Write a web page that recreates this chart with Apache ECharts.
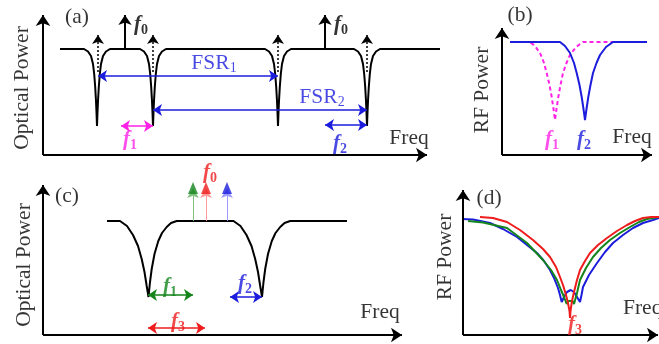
<!DOCTYPE html>
<html>
<head>
<meta charset="utf-8">
<script src="https://cdn.jsdelivr.net/npm/echarts@6/dist/echarts.min.js"></script>
<style>
html, body { margin: 0; padding: 0; background: #fff; }
#chart { width: 659px; height: 344px; }
</style>
</head>
<body>
<div id="chart"></div>
<script>
// units: freq / power offsets from each panel's origin

// (a) filter transmission, four notches
const curveA = [[17,106],
  [41,106],[45,103.5],[48,99],[50,91],[51.2,81],[52.2,68],[53,54],[53.6,40],[54,29],[54.4,40],[55,54],[55.8,68],[56.8,81],[58,91],[60,99],[63,103.5],[67,106],
  [97,106],[101,103.5],[104,99],[106,91],[107.2,81],[108.2,68],[109,54],[109.6,40],[110,29],[110.4,40],[111,54],[111.8,68],[112.8,81],[114,91],[116,99],[119,103.5],[123,106],
  [222,106],[226,103.5],[229,99],[231,91],[232.2,81],[233.2,68],[234,54],[234.6,40],[235,29],[235.4,40],[236,54],[236.8,68],[237.8,81],[239,91],[241,99],[244,103.5],[248,106],
  [311,106],[315,103.5],[318,99],[320,91],[321.2,81],[322.2,68],[323,54],[323.6,40],[324,29],[324.4,40],[325,54],[325.8,68],[326.8,81],[328,91],[330,99],[333,103.5],[337,106],
  [397,106]];
const sidebandsA = [55, 110, 235, 324];
const carriersA = [82, 282];

// (b) RF response
const rfBlue = [[8,113],[58,113],[63,109],[68,102],[72,92],[74.7,82],[77.5,70],[79.7,58],[81.5,46],[83,35],[84.5,46],[86.3,58],[88.5,70],[91,82],[94.5,92],[98,100],[104,108],[111,113],[145,113]];
const rfMagenta = [[8,113],[28,113],[33,109],[38,102],[42,92],[44.7,82],[47.5,70],[49.7,58],[51.5,46],[53,35],[54.5,46],[56.3,58],[58.5,70],[61,82],[64.5,92],[68,100],[74,108],[81,113],[145,113]];

// (c) filter transmission, two notches
const curveC = [[64,114],
  [77,114],[84,109],[90,100],[95,89],[98.7,76],[101.5,63],[103.7,49],[104.7,43],[105.5,38],[106,43],[107,53],[108.7,66],[111.5,81],[115.3,94],[119,102],[123.7,108],[128,112],[133.7,114],
  [190.5,114],[197.5,109],[203.5,100],[208.5,89],[212.2,76],[215,63],[217.2,49],[218.2,43],[219,38],[219.5,43],[220.5,53],[222.2,66],[225,81],[228.8,94],[232.5,102],[237.2,108],[241.5,112],[247.2,114],
  [304,114]];
const carriersC = [150, 163, 184];

// (d) RF response for three carriers
const rfRed = [[17,118],[30,117],[44,113],[57,105],[70,95],[80,86],[87,78],[93,68],[97,58],[100,50],[103,40],[105,32],[106.5,24],[107,17],[107.5,24],[109,34],[111,43],[114,55],[117,65],[122,74],[127,82],[135,90],[144,97],[154,104],[164,110],[172,114],[180,117],[188,118],[196,118]];
const rfGreen = [[5,114],[20,112.5],[44,107],[64,92],[80,75],[88,65],[94,55],[98,45],[101,38],[103.7,31],[105.5,34],[107.5,36],[109.5,34],[111,31],[114,42],[117,55],[123,67],[130,78],[138,87],[147,95],[157,102],[167,108],[176,113],[184,116],[196,118]];
const rfBlueD = [[-1,116],[10,115.5],[27,112],[40,106],[54,98],[64,90],[74,82],[81,74],[87,65],[91,57],[95,47],[97,40],[98.7,33],[101,38],[104,43],[107.7,45],[111,43],[114,38],[117,33],[118.5,40],[120,48],[126,60],[134,72],[142,83],[150,92],[160,100],[170,107],[180,112],[190,115],[196,117]];

// axis lengths (freq, power) per panel
const axisLen = [[384, 140], [150, 127], [359, 150], [195, 145]];

const SERIF = '"Liberation Serif", "DejaVu Serif", serif';
const BLUE = '#1c1cdc', MAG = '#ff22e6', RED = '#ee1c1c', GREEN = '#13851a';

const grids = [
  { left: 43, top: 15, width: 397, height: 140 },
  { left: 502, top: 28, width: 150, height: 127 },
  { left: 43, top: 185, width: 359, height: 150 },
  { left: 463, top: 190, width: 196, height: 145 }
];

function axis(i, max) {
  return {
    gridIndex: i, type: 'value', min: 0, max: max,
    axisLine: { show: false }, axisTick: { show: false },
    axisLabel: { show: false }, splitLine: { show: false }
  };
}

function curve(i, data, color, dash) {
  return {
    type: 'line', xAxisIndex: i, yAxisIndex: i, data: data, showSymbol: false, clip: false,
    lineStyle: { color: color, width: 2, type: dash ? [4, 3] : 'solid' }, z: 3
  };
}

function arrows(i, segs, color, both, width, dash, size) {
  return {
    type: 'lines', coordinateSystem: 'cartesian2d', xAxisIndex: i, yAxisIndex: i, clip: false,
    symbol: [both ? 'arrow' : 'none', 'arrow'], symbolSize: size || 9,
    lineStyle: { color: color, width: width || 1.5, type: dash ? [2, 2] : 'solid', opacity: 1 },
    data: segs.map(s => ({ coords: s })), z: 4
  };
}

function frame(i) {
  const L = axisLen[i];
  return arrows(i, [[[0, 0], [L[0], 0]], [[0, 0], [0, L[1]]]], '#000', false, 2, false, 11);
}

// text helper: main text + optional subscript
function tag(x, y, text, sub, color, fi, extra) {
  const m = fi ? 'fi' : 'n', s = fi ? 'fs' : 'ns';
  return { value: [x, y], label: Object.assign({
    formatter: '{' + m + '|' + text + '}' + (sub ? '{' + s + '|' + sub + '}' : ''),
    color: color }, extra || {}) };
}

const rich = {
  n: { fontFamily: SERIF, fontSize: 21.5, lineHeight: 24 },
  ns: { fontFamily: SERIF, fontSize: 14, lineHeight: 12, verticalAlign: 'bottom' },
  fi: { fontFamily: SERIF, fontSize: 21, lineHeight: 24, fontStyle: 'italic', fontWeight: 'bold' },
  fs: { fontFamily: SERIF, fontSize: 14, lineHeight: 12, verticalAlign: 'bottom', fontWeight: 'bold' }
};

function texts(i, items) {
  return {
    type: 'scatter', xAxisIndex: i, yAxisIndex: i, symbolSize: 1, clip: false,
    itemStyle: { color: 'rgba(0,0,0,0)' },
    label: { show: true, position: 'inside', rich: rich },
    data: items, z: 5
  };
}

const rot = { rotate: 90 };

const option = {
  animation: false,
  backgroundColor: '#fff',
  grid: grids,
  xAxis: grids.map((g, i) => axis(i, g.width)),
  yAxis: grids.map((g, i) => axis(i, g.height)),
  series: [
    frame(0), frame(1), frame(2), frame(3),
    // (a)
    curve(0, curveA, '#000'),
    arrows(0, sidebandsA.map(x => [[x, 83], [x, 120]]), '#000', false, 1.5, true),
    arrows(0, carriersA.map(x => [[x, 106], [x, 140]]), '#000', false, 2, false, 10),
    arrows(0, [[[55, 79], [235, 79]], [[110, 45], [324, 45]], [[282, 30], [324, 30]]], BLUE, true),
    arrows(0, [[[78, 29], [110, 29]]], MAG, true),
    texts(0, [
      tag(34, 138, '(a)', '', '#000'),
      tag(-21, 67, 'Optical Power', '', '#000', false, rot),
      tag(98, 130, 'f', '0', '#000', true),
      tag(298, 130, 'f', '0', '#000', true),
      tag(171, 92, 'FSR', '1', BLUE),
      tag(279, 58, 'FSR', '2', BLUE),
      tag(87, 15, 'f', '1', MAG, true),
      tag(297, 11, 'f', '2', BLUE, true),
      tag(366, 17, 'Freq', '', '#000')
    ]),
    // (b)
    curve(1, rfMagenta, MAG, true),
    curve(1, rfBlue, BLUE),
    texts(1, [
      tag(18, 140, '(b)', '', '#000'),
      tag(-20, 65, 'RF Power', '', '#000', false, rot),
      tag(50, 15, 'f', '1', MAG, true),
      tag(82, 15, 'f', '2', BLUE, true),
      tag(130, 18, 'Freq', '', '#000')
    ]),
    // (c)
    curve(2, curveC, '#000'),
    arrows(2, [[[carriersC[0], 114], [carriersC[0], 146]]], '#7fc07f', false, 1),
    arrows(2, [[[carriersC[1], 114], [carriersC[1], 146]]], '#ff9a9a', false, 1),
    arrows(2, [[[carriersC[2], 114], [carriersC[2], 146]]], '#9a9aff', false, 1),
    {
      type: 'scatter', xAxisIndex: 2, yAxisIndex: 2, symbol: 'triangle', symbolSize: [10, 12], clip: false,
      data: [
        { value: [carriersC[0], 147], itemStyle: { color: GREEN } },
        { value: [carriersC[1], 147], itemStyle: { color: RED } },
        { value: [carriersC[2], 147], itemStyle: { color: BLUE } }
      ], z: 5
    },
    arrows(2, [[[105, 40], [150, 40]]], GREEN, true),
    arrows(2, [[[105, 7], [162, 7]]], RED, true),
    arrows(2, [[[187, 38], [219, 38]]], BLUE, true),
    texts(2, [
      tag(24, 139, '(c)', '', '#000'),
      tag(-19, 70, 'Optical Power', '', '#000', false, rot),
      tag(167, 162, 'f', '0', RED, true),
      tag(127, 48, 'f', '1', GREEN, true),
      tag(135, 13, 'f', '3', RED, true),
      tag(202, 51, 'f', '2', BLUE, true),
      tag(337, 23, 'Freq', '', '#000')
    ]),
    // (d)
    curve(3, rfBlueD, BLUE),
    curve(3, rfGreen, GREEN),
    curve(3, rfRed, RED),
    texts(3, [
      tag(26, 137, '(d)', '', '#000'),
      tag(-18, 78, 'RF Power', '', '#000', false, rot),
      tag(112, 10, 'f', '3', RED, true),
      tag(160, 27, 'Freq', '', '#000', false, { align: 'left' })
    ])
  ]
};

const chart = echarts.init(document.getElementById('chart'));
chart.setOption(option);
</script>
</body>
</html>
